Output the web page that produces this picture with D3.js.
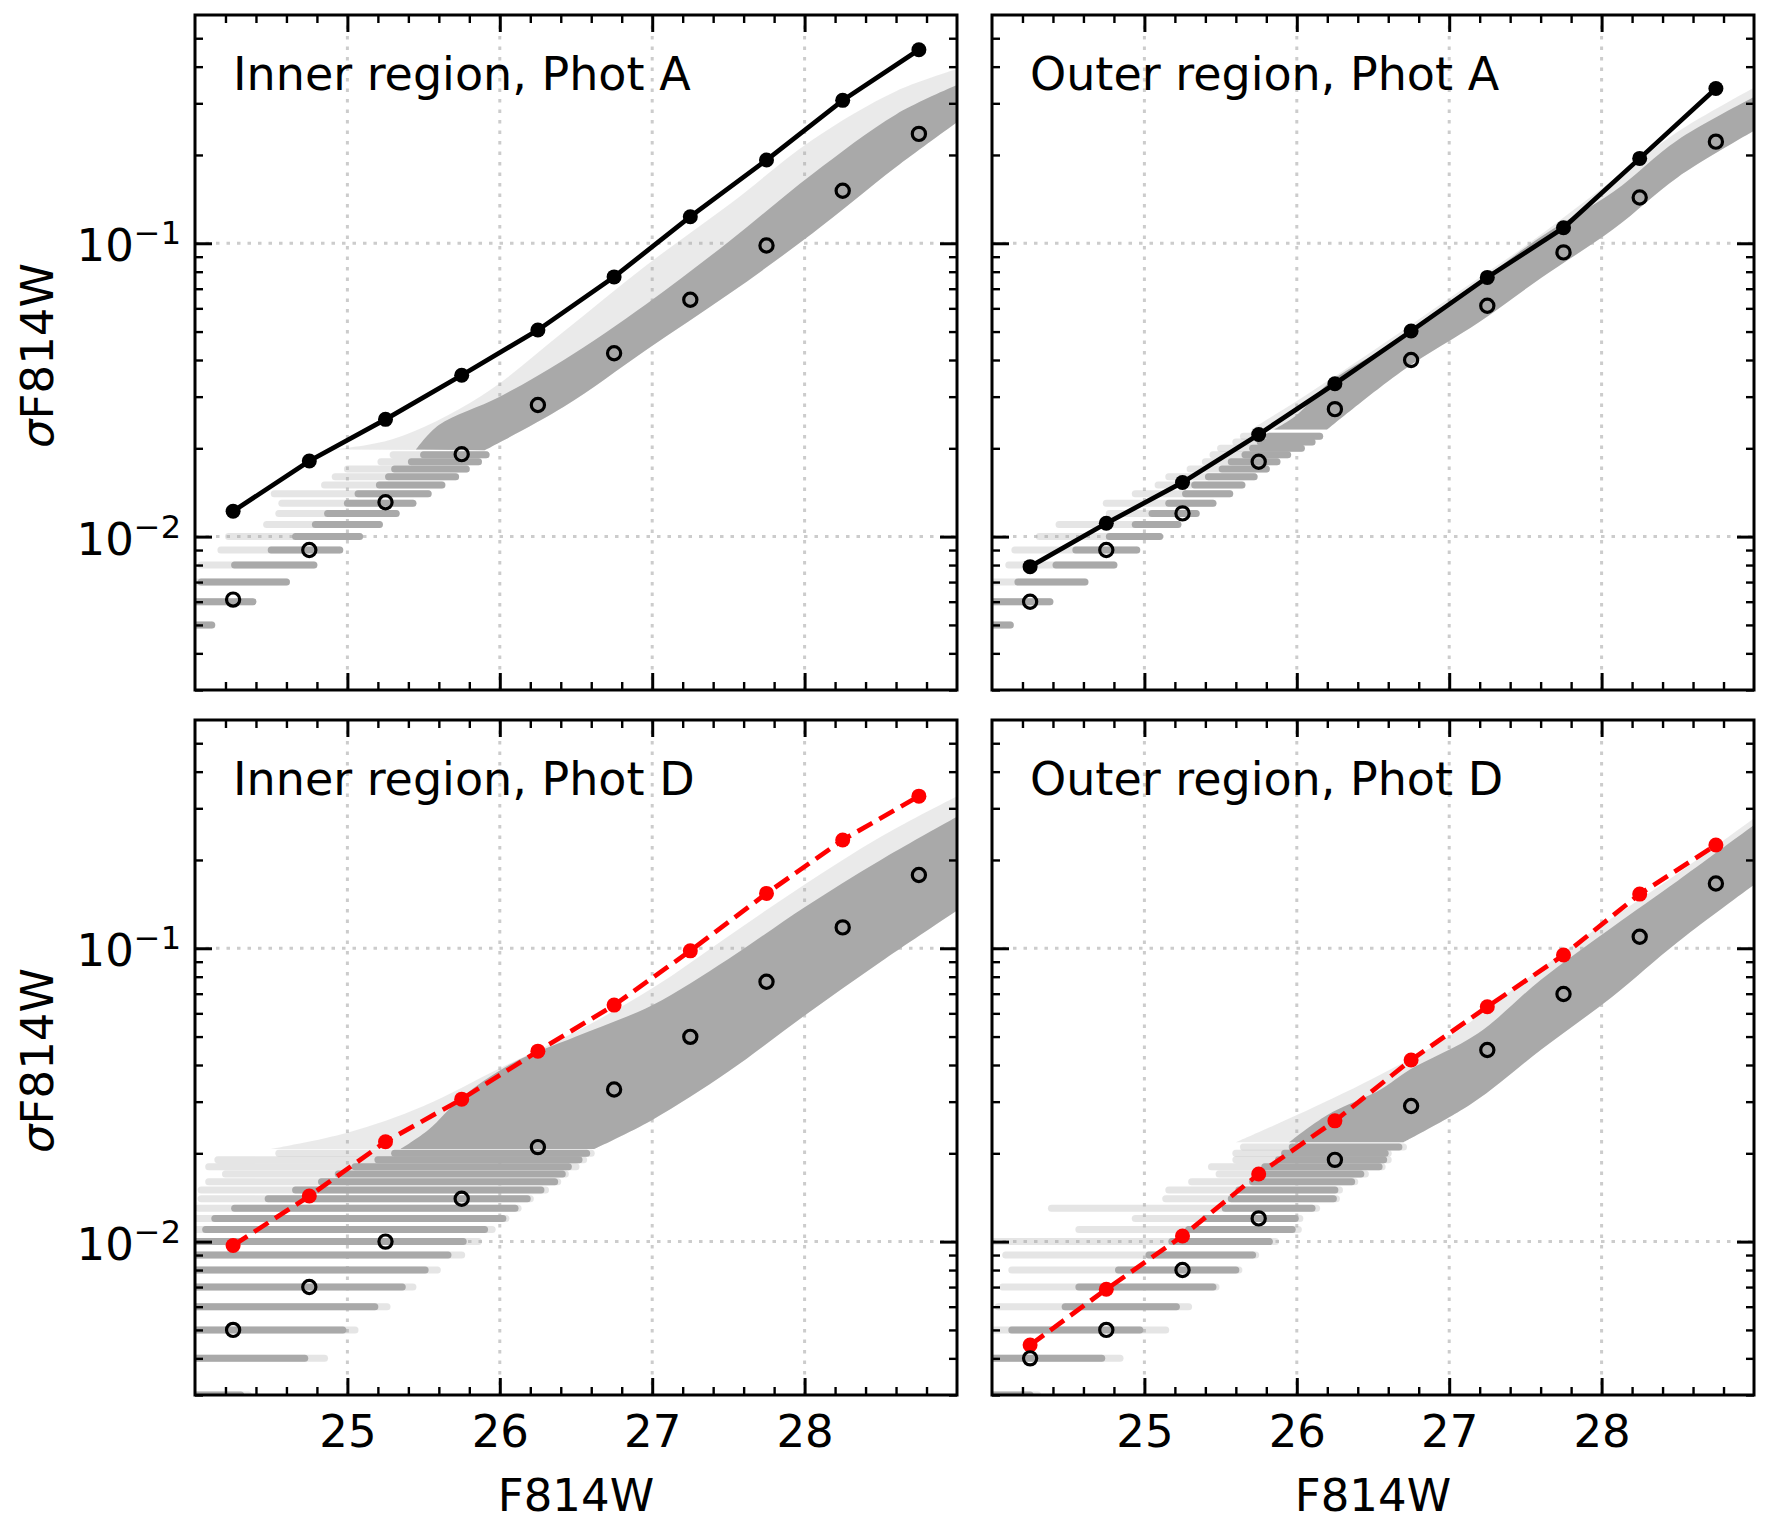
<!DOCTYPE html>
<html>
<head>
<meta charset="utf-8">
<script src="https://cdn.jsdelivr.net/npm/d3@7"></script>
<style>
  body { margin: 0; background: #fff; }
  svg { display: block; font-family: "DejaVu Sans", sans-serif; }
</style>
</head>
<body>
<div id="chart"></div>
<script>
// magnitude bins shared by all four panels
var mags = [24.25, 24.75, 25.25, 25.75, 26.25, 26.75, 27.25, 27.75, 28.25, 28.75];

// rms (filled) and median (open) sigma per bin
var innerA_rms = [0.0122, 0.0181, 0.0251, 0.0355, 0.0506, 0.0768, 0.1232, 0.1922, 0.307, 0.457];
var innerA_med = [0.0061, 0.0090, 0.0131, 0.0191, 0.0281, 0.0422, 0.0642, 0.0983, 0.151, 0.236];
var outerA_rms = [0.0079, 0.0111, 0.0153, 0.0223, 0.0332, 0.0502, 0.0765, 0.1129, 0.1947, 0.337];
var outerA_med = [0.0060, 0.0090, 0.0120, 0.0180, 0.0272, 0.0400, 0.0612, 0.0931, 0.1433, 0.222];
var innerD_rms = [0.0097, 0.0143, 0.0219, 0.0306, 0.0446, 0.0640, 0.0980, 0.1538, 0.234, 0.330];
var innerD_med = [0.0050, 0.0070, 0.0100, 0.0140, 0.0210, 0.0330, 0.0499, 0.0769, 0.1178, 0.1777];
var outerD_rms = [0.00444, 0.00688, 0.01045, 0.0170, 0.0258, 0.0416, 0.0632, 0.0948, 0.153, 0.225];
var outerD_med = [0.0040, 0.0050, 0.0080, 0.0120, 0.0190, 0.0290, 0.0450, 0.0698, 0.1094, 0.1663];

// quantised star rows: [sigma, sparse from, dense from, dense to, sparse to]
var innerA_streaks = [
  [0.005, 24.0, 24.0, 24.11, 24.11], [0.006, 24.0, 24.0, 24.38, 24.38],
  [0.007, 24.0, 24.04, 24.60, 24.60], [0.008, 24.04, 24.26, 24.78, 24.78],
  [0.009, 24.17, 24.50, 24.95, 24.95], [0.010, 24.22, 24.66, 25.08, 25.08],
  [0.011, 24.47, 24.79, 25.21, 25.21], [0.012, 24.55, 24.87, 25.32, 25.32],
  [0.013, 24.57, 25.00, 25.43, 25.43], [0.014, 24.52, 25.07, 25.53, 25.53],
  [0.015, 24.85, 25.21, 25.62, 25.62], [0.016, 24.92, 25.27, 25.71, 25.71],
  [0.017, 25.00, 25.31, 25.78, 25.78], [0.018, 25.22, 25.42, 25.86, 25.86],
  [0.019, 25.30, 25.50, 25.91, 25.91]
];
var outerA_streaks = [
  [0.005, 24.0, 24.0, 24.12, 24.12], [0.006, 24.0, 24.0, 24.38, 24.38],
  [0.007, 24.0, 24.17, 24.61, 24.61], [0.008, 24.11, 24.42, 24.80, 24.80],
  [0.009, 24.15, 24.55, 24.95, 24.95], [0.010, 24.31, 24.77, 25.10, 25.10],
  [0.011, 24.44, 24.94, 25.22, 25.22], [0.012, 24.77, 25.05, 25.34, 25.34],
  [0.013, 24.75, 25.16, 25.45, 25.45], [0.014, 24.94, 25.27, 25.56, 25.56],
  [0.015, 25.09, 25.33, 25.64, 25.64], [0.016, 25.16, 25.42, 25.72, 25.72],
  [0.017, 25.30, 25.51, 25.80, 25.80], [0.018, 25.40, 25.57, 25.87, 25.87],
  [0.019, 25.45, 25.66, 25.94, 25.94], [0.020, 25.50, 25.71, 26.03, 26.03],
  [0.021, 25.60, 25.76, 26.10, 26.10], [0.022, 25.65, 25.82, 26.15, 26.15]
];
var innerD_streaks = [
  [0.003, 24.0, 24.0, 24.30, 24.35], [0.004, 24.0, 24.0, 24.72, 24.85],
  [0.005, 24.0, 24.0, 24.97, 25.05], [0.006, 24.0, 24.0, 25.18, 25.26],
  [0.007, 24.0, 24.0, 25.36, 25.43], [0.008, 24.0, 24.0, 25.51, 25.59],
  [0.009, 24.0, 24.0, 25.66, 25.75], [0.010, 24.0, 24.0, 25.76, 25.86],
  [0.011, 24.0, 24.07, 25.90, 25.95], [0.012, 24.0, 24.13, 26.02, 26.04],
  [0.013, 24.02, 24.26, 26.10, 26.12], [0.014, 24.04, 24.48, 26.18, 26.20],
  [0.015, 24.04, 24.66, 26.27, 26.30], [0.016, 24.09, 24.83, 26.36, 26.38],
  [0.017, 24.20, 24.94, 26.41, 26.43], [0.018, 24.09, 25.05, 26.45, 26.50],
  [0.019, 24.15, 25.20, 26.52, 26.55], [0.020, 24.55, 25.31, 26.57, 26.60]
];
var outerD_streaks = [
  [0.003, 24.0, 24.0, 24.25, 24.30], [0.004, 24.0, 24.0, 24.72, 24.84],
  [0.005, 24.0, 24.13, 24.97, 25.14], [0.006, 24.04, 24.48, 25.21, 25.29],
  [0.007, 24.07, 24.57, 25.45, 25.47], [0.008, 24.13, 24.83, 25.60, 25.62],
  [0.009, 24.09, 25.03, 25.71, 25.73], [0.010, 24.0, 25.18, 25.82, 25.86],
  [0.011, 24.57, 25.29, 25.97, 26.01], [0.012, 24.94, 25.40, 25.99, 26.02],
  [0.013, 24.39, 25.53, 26.10, 26.13], [0.014, 25.14, 25.57, 26.24, 26.26],
  [0.015, 25.16, 25.62, 26.25, 26.28], [0.016, 25.31, 25.71, 26.36, 26.38],
  [0.017, 25.49, 25.75, 26.42, 26.45], [0.018, 25.44, 25.79, 26.54, 26.56],
  [0.019, 25.60, 25.88, 26.57, 26.60], [0.020, 25.60, 25.92, 26.58, 26.60],
  [0.021, 25.65, 25.97, 26.67, 26.70]
];

// continuous part of the star cloud: dense upper edge, lower edge, sparse halo edge [mag, sigma]
var innerA_upper = [[25.45, 0.0198], [25.6, 0.024], [26.0, 0.030], [26.42, 0.040], [26.96, 0.062], [27.51, 0.102], [28.05, 0.172], [28.6, 0.275], [29.05, 0.355]];
var innerA_lower = [[25.9, 0.0197], [26.42, 0.0277], [26.96, 0.0433], [27.51, 0.0675], [28.05, 0.108], [28.6, 0.182], [29.05, 0.27]];
var innerA_halo = [[24.9, 0.0198], [25.3, 0.0215], [25.87, 0.030], [26.42, 0.050], [26.96, 0.084], [27.51, 0.136], [28.05, 0.225], [28.6, 0.330], [29.05, 0.40]];

var outerA_upper = [[25.85, 0.0232], [26.0, 0.026], [26.22, 0.0337], [26.7, 0.048], [27.2, 0.074], [27.6, 0.105], [28.08, 0.150], [28.5, 0.225], [29.05, 0.325]];
var outerA_lower = [[26.2, 0.0232], [26.7, 0.037], [27.2, 0.054], [27.6, 0.076], [28.08, 0.112], [28.5, 0.168], [29.05, 0.25]];
var outerA_halo = [[25.7, 0.0232], [26.0, 0.029], [26.5, 0.043], [27.0, 0.065], [27.5, 0.098], [28.08, 0.165], [28.5, 0.24], [29.05, 0.35]];

var innerD_upper = [[25.35, 0.0207], [25.53, 0.024], [25.75, 0.031], [26.08, 0.0405], [26.5, 0.050], [27.0, 0.064], [27.5, 0.092], [28.0, 0.138], [28.5, 0.20], [29.05, 0.29]];
var innerD_lower = [[26.62, 0.0207], [27.0, 0.026], [27.5, 0.038], [28.0, 0.059], [28.5, 0.09], [29.05, 0.14]];
var innerD_halo = [[24.5, 0.0207], [25.0, 0.0235], [25.5, 0.029], [26.0, 0.039], [26.5, 0.052], [27.0, 0.073], [27.5, 0.11], [28.0, 0.165], [28.5, 0.24], [29.05, 0.34]];

var outerD_upper = [[25.95, 0.0218], [26.2, 0.027], [26.55, 0.033], [26.74, 0.0385], [27.19, 0.0513], [27.6, 0.078], [28.07, 0.118], [28.5, 0.17], [29.05, 0.275]];
var outerD_lower = [[26.7, 0.0218], [27.15, 0.0296], [27.6, 0.045], [28.07, 0.0684], [28.5, 0.105], [29.05, 0.172]];
var outerD_halo = [[25.6, 0.0218], [26.0, 0.027], [26.5, 0.036], [27.0, 0.05], [27.5, 0.078], [28.0, 0.12], [28.5, 0.18], [29.05, 0.29]];

// axes
var xDomain = [24.0, 29.0];
var yDomain = [0.003, 0.6];
var xTickValues = [25, 26, 27, 28];
var yTickValues = [0.01, 0.1];
var yMinorValues = [0.003, 0.004, 0.005, 0.006, 0.007, 0.008, 0.009,
  0.02, 0.03, 0.04, 0.05, 0.06, 0.07, 0.08, 0.09, 0.2, 0.3, 0.4, 0.5];
var titles = ["Inner region, Phot A", "Outer region, Phot A", "Inner region, Phot D", "Outer region, Phot D"];

var svgWidth = 1770;
var svgHeight = 1533;
var panelW = 762;
var panelH = 675;
var colX = [195, 992];
var rowY = [15, 720];
var fontSize = 45;

var panels = [
  { title: titles[0], col: 0, row: 0, rms: innerA_rms, med: innerA_med, color: "#000000", dashed: false,
    streaks: innerA_streaks, upper: innerA_upper, lower: innerA_lower, halo: innerA_halo },
  { title: titles[1], col: 1, row: 0, rms: outerA_rms, med: outerA_med, color: "#000000", dashed: false,
    streaks: outerA_streaks, upper: outerA_upper, lower: outerA_lower, halo: outerA_halo },
  { title: titles[2], col: 0, row: 1, rms: innerD_rms, med: innerD_med, color: "#ff0000", dashed: true,
    streaks: innerD_streaks, upper: innerD_upper, lower: innerD_lower, halo: innerD_halo },
  { title: titles[3], col: 1, row: 1, rms: outerD_rms, med: outerD_med, color: "#ff0000", dashed: true,
    streaks: outerD_streaks, upper: outerD_upper, lower: outerD_lower, halo: outerD_halo }
];

var svg = d3.select("#chart")
  .append("svg")
  .attr("width", svgWidth)
  .attr("height", svgHeight);

var xMinorValues = d3.range(24.2, 29.0, 0.2).filter(v => Math.abs(v - Math.round(v)) > 0.05);

function styleAxis(sel, width) {
  sel.select(".domain").remove();
  sel.attr("font-family", null).attr("font-size", null);
  sel.selectAll(".tick line").attr("stroke", "#000").attr("stroke-width", width);
  sel.selectAll(".tick text").attr("fill", "#000").style("font-size", fontSize + "px");
}

function drawPanel(p, i) {
  var x0 = colX[p.col], y0 = rowY[p.row];
  var g = svg.append("g").attr("transform", `translate(${x0}, ${y0})`);

  var x = d3.scaleLinear().domain(xDomain).range([0, panelW]);
  var y = d3.scaleLog().domain(yDomain).range([panelH, 0]);

  g.append("clipPath").attr("id", "clip" + i)
    .append("rect").attr("width", panelW).attr("height", panelH);

  // dotted grid
  var grid = g.append("g").attr("stroke", "#cccccc").attr("stroke-width", 3).attr("stroke-dasharray", "3.5,7");
  grid.selectAll("line.gx").data(xTickValues).enter().append("line")
    .attr("x1", d => x(d)).attr("x2", d => x(d)).attr("y1", 0).attr("y2", panelH);
  grid.selectAll("line.gy").data(yTickValues).enter().append("line")
    .attr("y1", d => y(d)).attr("y2", d => y(d)).attr("x1", 0).attr("x2", panelW);

  var data = g.append("g").attr("clip-path", `url(#clip${i})`);
  var poly = d3.line().x(d => x(d[0])).y(d => y(d[1]));
  var edge = d3.line().x(d => x(d[0])).y(d => y(d[1])).curve(d3.curveCatmullRom);
  // closed outline: smooth top edge, then the smooth lower edge walked backwards
  function outline(top, bottom) {
    return edge(top) + "L" + edge(bottom.slice().reverse()).slice(1) + "Z";
  }

  // sparse halo of the star cloud
  data.append("path")
    .attr("d", outline(p.halo, p.lower))
    .attr("fill", "#a9a9a9").attr("fill-opacity", 0.24);

  // quantised rows: sparse part then dense part
  data.selectAll("line.sparse").data(p.streaks).enter().append("line")
    .attr("x1", d => x(d[1])).attr("x2", d => x(d[4]))
    .attr("y1", d => y(d[0])).attr("y2", d => y(d[0]))
    .attr("stroke", "#a9a9a9").attr("stroke-opacity", 0.3)
    .attr("stroke-width", 7).attr("stroke-linecap", "round");
  data.selectAll("line.dense").data(p.streaks).enter().append("line")
    .attr("x1", d => x(d[2])).attr("x2", d => x(d[3]))
    .attr("y1", d => y(d[0])).attr("y2", d => y(d[0]))
    .attr("stroke", "#a9a9a9")
    .attr("stroke-width", 7).attr("stroke-linecap", "round");

  // dense part of the star cloud
  data.append("path")
    .attr("d", outline(p.upper, p.lower))
    .attr("fill", "#a9a9a9");

  // rms curve
  var pts = mags.map((m, k) => [m, p.rms[k]]);
  data.append("path")
    .attr("d", poly(pts))
    .attr("fill", "none")
    .attr("stroke", p.color)
    .attr("stroke-width", 4.7)
    .attr("stroke-dasharray", p.dashed ? "17,8" : null);
  data.selectAll("circle.rms").data(pts).enter().append("circle")
    .attr("cx", d => x(d[0])).attr("cy", d => y(d[1])).attr("r", 7.5)
    .attr("fill", p.color);

  // medians
  data.selectAll("circle.med").data(mags.map((m, k) => [m, p.med[k]])).enter().append("circle")
    .attr("cx", d => x(d[0])).attr("cy", d => y(d[1])).attr("r", 6.6)
    .attr("fill", "none").attr("stroke", "#000").attr("stroke-width", 3.2);

  // ticks, all inward on four sides
  var showX = p.row === 1, showY = p.col === 0;
  g.append("g").attr("transform", `translate(0, ${panelH})`)
    .call(d3.axisBottom(x).tickValues(xTickValues).tickSizeInner(-17).tickSizeOuter(0)
      .tickPadding(20).tickFormat(showX ? d3.format("d") : ""))
    .call(s => styleAxis(s, 3));
  g.append("g").attr("transform", `translate(0, ${panelH})`)
    .call(d3.axisBottom(x).tickValues(xMinorValues).tickSizeInner(-8).tickSizeOuter(0).tickFormat(""))
    .call(s => styleAxis(s, 2.4));
  g.append("g")
    .call(d3.axisTop(x).tickValues(xTickValues).tickSizeInner(-17).tickSizeOuter(0).tickFormat(""))
    .call(s => styleAxis(s, 3));
  g.append("g")
    .call(d3.axisTop(x).tickValues(xMinorValues).tickSizeInner(-8).tickSizeOuter(0).tickFormat(""))
    .call(s => styleAxis(s, 2.4));

  var left = g.append("g")
    .call(d3.axisLeft(y).tickValues(yTickValues).tickSizeInner(-17).tickSizeOuter(0).tickFormat(() => ""))
    .call(s => styleAxis(s, 3));
  if (showY) {
    left.selectAll(".tick text").each(function(d) {
      var t = d3.select(this).attr("dy", null).attr("x", -14).attr("y", 17.5);
      t.append("tspan").text("10");
      t.append("tspan").attr("dy", -17).style("font-size", "32px")
        .text("\u2212" + Math.round(-Math.log10(d)));
    });
  }
  g.append("g")
    .call(d3.axisLeft(y).tickValues(yMinorValues).tickSizeInner(-8).tickSizeOuter(0).tickFormat(""))
    .call(s => styleAxis(s, 2.4));
  g.append("g").attr("transform", `translate(${panelW}, 0)`)
    .call(d3.axisRight(y).tickValues(yTickValues).tickSizeInner(-17).tickSizeOuter(0).tickFormat(""))
    .call(s => styleAxis(s, 3));
  g.append("g").attr("transform", `translate(${panelW}, 0)`)
    .call(d3.axisRight(y).tickValues(yMinorValues).tickSizeInner(-8).tickSizeOuter(0).tickFormat(""))
    .call(s => styleAxis(s, 2.4));

  // frame
  g.append("rect")
    .attr("width", panelW).attr("height", panelH)
    .attr("fill", "none").attr("stroke", "#000").attr("stroke-width", 3);

  // panel label
  g.append("text")
    .attr("x", 38).attr("y", 75)
    .style("font-size", "46px")
    .text(p.title);

  if (showX) {
    g.append("text")
      .attr("x", panelW / 2).attr("y", 1511 - y0)
      .attr("text-anchor", "middle")
      .style("font-size", fontSize + "px")
      .text("F814W");
  }
  if (showY) {
    var lab = svg.append("text")
      .attr("transform", `translate(53, ${y0 + panelH / 2 + 3}) rotate(-90)`)
      .attr("text-anchor", "middle")
      .style("font-size", fontSize + "px");
    lab.append("tspan").style("font-style", "italic").text("\u03c3");
    lab.append("tspan").text("F814W");
  }
}

panels.forEach(drawPanel);
</script>
</body>
</html>
